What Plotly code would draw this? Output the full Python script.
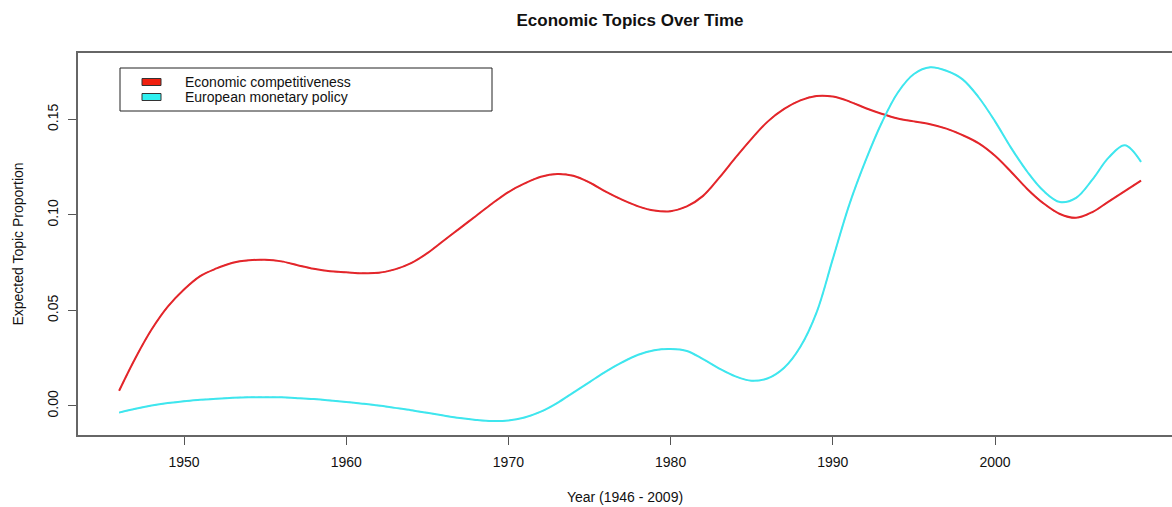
import plotly.graph_objects as go

years = list(range(1946, 2010))

economic_competitiveness = [
    0.0080, 0.0250, 0.0400, 0.0520, 0.0610, 0.0680, 0.0720, 0.0750, 0.0763, 0.0765,
    0.0757, 0.0737, 0.0718, 0.0705, 0.0700, 0.0695, 0.0697, 0.0715, 0.0748, 0.0800,
    0.0865, 0.0930, 0.0995, 0.1060, 0.1120, 0.1165, 0.1200, 0.1215, 0.1205, 0.1170,
    0.1122, 0.1080, 0.1045, 0.1023, 0.1020, 0.1045, 0.1100, 0.1195, 0.1300, 0.1400,
    0.1490, 0.1555, 0.1600, 0.1623, 0.1620, 0.1595, 0.1560, 0.1530, 0.1505, 0.1490,
    0.1475, 0.1452, 0.1418, 0.1375, 0.1310, 0.1225, 0.1135, 0.1060, 0.1005, 0.0985,
    0.1015, 0.1070, 0.1125, 0.1180,
]

european_monetary_policy = [
    -0.0035, -0.0015, 0.0002, 0.0015, 0.0025, 0.0032, 0.0038, 0.0043, 0.0046, 0.0046,
    0.0045, 0.0041, 0.0036, 0.0029, 0.0021, 0.0012, 0.0002, -0.0010, -0.0022, -0.0036,
    -0.0050, -0.0063, -0.0073, -0.0079, -0.0076, -0.0060, -0.0030, 0.0015, 0.0070, 0.0125,
    0.0180, 0.0228, 0.0268, 0.0292, 0.0298, 0.0288, 0.0245, 0.0196, 0.0155, 0.0132,
    0.0145, 0.0200, 0.0310, 0.0490, 0.0770, 0.1050, 0.1280, 0.1480, 0.1640, 0.1738,
    0.1773, 0.1755, 0.1710, 0.1615, 0.1490, 0.1350, 0.1225, 0.1125, 0.1068, 0.1090,
    0.1185, 0.1300, 0.1365, 0.1278,
]

series_names = ["Economic competitiveness", "European monetary policy"]
series_colors = ["#e3262b", "#3fe6ee"]
legend_fill = ["#f0200f", "#2ff0f0"]
x_ticks = [1950, 1960, 1970, 1980, 1990, 2000]
y_ticks = [0.00, 0.05, 0.10, 0.15]
y_tick_text = ["0.00", "0.05", "0.10", "0.15"]

FONT = "Liberation Sans, Arial, Helvetica, sans-serif"
W, H = 1172, 507
L, T, R, B = 78, 53, 0, 72
PW, PH = W - L - R, H - T - B


def px(xp):
    return (xp - L) / PW


def py(yp):
    return (H - B - yp) / PH


fig = go.Figure()
for name, vals, col in zip(series_names, [economic_competitiveness, european_monetary_policy], series_colors):
    fig.add_trace(go.Scatter(
        x=years, y=vals, mode="lines", name=name,
        line=dict(color=col, width=2, shape="spline", smoothing=1.0),
        showlegend=False,
    ))
    fig.add_trace(go.Scatter(
        x=years, y=vals, mode="lines", name=name + " (CI)",
        line=dict(color=col, width=1.2, dash="4px,3px", shape="spline", smoothing=1.0),
        opacity=0.7, showlegend=False, hoverinfo="skip",
    ))

shapes = [
    dict(type="rect", xref="paper", yref="paper", x0=px(120), x1=px(492), y0=py(111), y1=py(68),
         line=dict(color="#222222", width=1), fillcolor="white", layer="below"),
]
annotations = []
for i, (name, fill) in enumerate(zip(series_names, legend_fill)):
    yc = 82 + i * 15
    shapes.append(dict(type="rect", xref="paper", yref="paper", x0=px(142), x1=px(161),
                       y0=py(yc + 3.5), y1=py(yc - 3.5),
                       line=dict(color="#333333", width=1), fillcolor=fill))
    annotations.append(dict(xref="paper", yref="paper", x=px(183), y=py(yc), text=name,
                            showarrow=False, xanchor="left", yanchor="middle",
                            font=dict(family=FONT, size=14, color="#111111")))

fig.update_layout(
    width=W, height=H,
    margin=dict(l=L, r=R, t=T, b=B, pad=0),
    paper_bgcolor="white", plot_bgcolor="white",
    title=dict(text="<b>Economic Topics Over Time</b>", x=px(630), xref="paper",
               xanchor="center", y=1 - 20 / H, yref="container", yanchor="middle",
               font=dict(family=FONT, size=17, color="#111111")),
    shapes=shapes, annotations=annotations,
    showlegend=False,
)
fig.update_xaxes(
    range=[1943.465, 2010.91], tickvals=x_ticks, ticks="outside", ticklen=8, tickcolor="#555555",
    showline=True, linecolor="#666666", linewidth=1.5, mirror=True, showgrid=False, zeroline=False,
    ticklabelstandoff=5,
    tickfont=dict(family=FONT, size=14, color="#111111"),
    title=dict(text="Year (1946 - 2009)", standoff=24, font=dict(family=FONT, size=14, color="#111111")),
)
fig.update_yaxes(
    range=[-0.0152, 0.1848], tickvals=y_ticks, ticktext=y_tick_text, tickangle=-90,
    ticks="outside", ticklen=8, tickcolor="#555555",
    showline=True, linecolor="#666666", linewidth=1.5, showgrid=False, zeroline=False,
    ticklabelstandoff=5,
    tickfont=dict(family=FONT, size=14, color="#111111"),
    title=dict(text="Expected Topic Proportion", standoff=18, font=dict(family=FONT, size=14, color="#111111")),
)

fig.write_html(
    "out.html",
    config={"displayModeBar": False},
    post_script="document.body.style.margin='0';document.body.style.overflow='hidden';",
)
